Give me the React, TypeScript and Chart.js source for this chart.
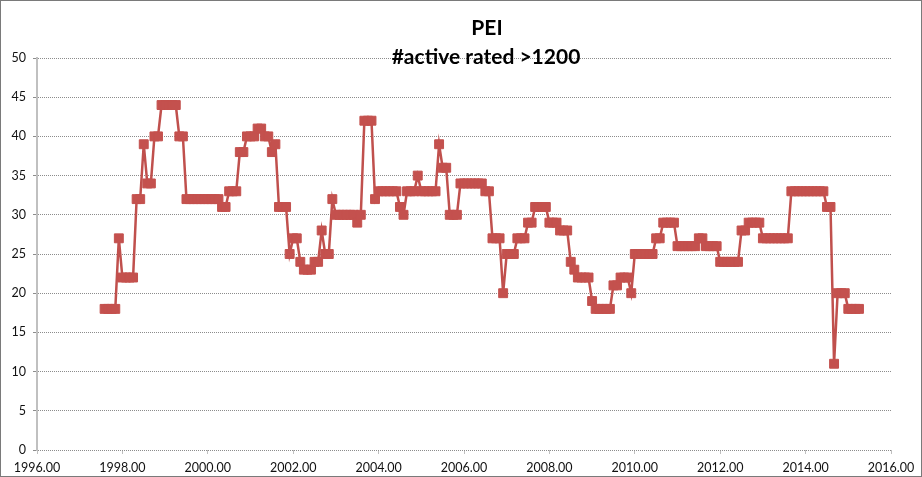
import React, { useEffect, useRef } from "react";
import { Chart, registerables } from "chart.js";

Chart.register(...registerables);

// Title text
const TITLE_LINES = ["PEI", "#active rated >1200"];

// First data point: August 1997, then one value per month
const FIRST_YEAR = 1997;
const FIRST_MONTH = 8;

// Axis ranges
const X_MIN = 1996;
const X_MAX = 2016;
const X_STEP = 2;
const Y_MIN = 0;
const Y_MAX = 50;
const Y_STEP = 5;

// Monthly values (number of active players rated > 1200)
const values1997 = [18, 18, 18, 18, 27];
const values1998 = [22, 22, 22, 22, 32, 32, 39, 34, 34, 40, 40, 44];
const values1999 = [44, 44, 44, 44, 40, 40, 32, 32, 32, 32, 32, 32];
const values2000 = [32, 32, 32, 32, 31, 31, 33, 33, 33, 38, 38, 40];
const values2001 = [40, 40, 41, 41, 40, 40, 38, 39, 31, 31, 31, 25];
const values2002 = [27, 27, 24, 23, 23, 23, 24, 24, 28, 25, 25, 32];
const values2003 = [30, 30, 30, 30, 30, 30, 29, 30, 42, 42, 42, 32];
const values2004 = [33, 33, 33, 33, 33, 33, 31, 30, 33, 33, 33, 35];
const values2005 = [33, 33, 33, 33, 33, 39, 36, 36, 30, 30, 30, 34];
const values2006 = [34, 34, 34, 34, 34, 34, 33, 33, 27, 27, 27, 20];
const values2007 = [25, 25, 25, 27, 27, 27, 29, 29, 31, 31, 31, 31];
const values2008 = [29, 29, 29, 28, 28, 28, 24, 23, 22, 22, 22, 22];
const values2009 = [19, 18, 18, 18, 18, 18, 21, 21, 22, 22, 22, 20];
const values2010 = [25, 25, 25, 25, 25, 25, 27, 27, 29, 29, 29, 29];
const values2011 = [26, 26, 26, 26, 26, 26, 27, 27, 26, 26, 26, 26];
const values2012 = [24, 24, 24, 24, 24, 24, 28, 28, 29, 29, 29, 29];
const values2013 = [27, 27, 27, 27, 27, 27, 27, 27, 33, 33, 33, 33];
const values2014 = [33, 33, 33, 33, 33, 33, 31, 31, 11, 20, 20, 20];
const values2015 = [18, 18, 18, 18];

const FONT = "Lato, 'Open Sans', Arial, sans-serif";

export default function App() {
  const ref = useRef<HTMLCanvasElement>(null);

  useEffect(() => {
    const values = [
      ...values1997, ...values1998, ...values1999, ...values2000, ...values2001,
      ...values2002, ...values2003, ...values2004, ...values2005, ...values2006,
      ...values2007, ...values2008, ...values2009, ...values2010, ...values2011,
      ...values2012, ...values2013, ...values2014, ...values2015,
    ];
    const points = values.map((y, i) => ({
      x: FIRST_YEAR + (FIRST_MONTH - 1 + i) / 12,
      y,
    }));

    const titlePlugin = {
      id: "excelTitle",
      afterDraw(chart: any) {
        const ctx = chart.ctx;
        ctx.save();
        ctx.fillStyle = "#000000";
        ctx.font = `bold 21px ${FONT}`;
        ctx.textAlign = "center";
        ctx.textBaseline = "middle";
        ctx.fillText(TITLE_LINES[0], 487, 28);
        ctx.fillText(TITLE_LINES[1], 486, 57);
        ctx.restore();
      },
    };

    const chart = new Chart(ref.current as HTMLCanvasElement, {
      type: "scatter",
      data: {
        datasets: [
          {
            data: points,
            showLine: true,
            borderColor: "#c0504d",
            borderWidth: 2.5,
            backgroundColor: "#c0504d",
            pointStyle: "rect",
            pointRadius: 6.3,
            pointHoverRadius: 6.3,
            pointBorderColor: "#c4514e",
            pointBorderWidth: 1,
            pointBackgroundColor: "#c4514e",
          },
        ],
      },
      options: {
        animation: false,
        responsive: false,
        maintainAspectRatio: false,
        layout: { padding: { top: 58, right: 31, left: 0, bottom: 0 } },
        plugins: {
          legend: { display: false },
          tooltip: { enabled: false },
          title: { display: false },
        },
        scales: {
          x: {
            type: "linear",
            min: X_MIN,
            max: X_MAX,
            afterFit: (scale: any) => {
              scale.height = 27;
            },
            ticks: {
              stepSize: X_STEP,
              autoSkip: false,
              maxRotation: 0,
              padding: 6,
              color: "#111111",
              font: { family: FONT, size: 12.5 },
              callback: (v: any) => Number(v).toFixed(2),
            },
            grid: {
              display: true,
              drawOnChartArea: false,
              drawTicks: true,
              tickLength: 4,
              color: "#bfbfbf",
              lineWidth: 1,
            },
            border: { display: false },
          },
          y: {
            type: "linear",
            min: Y_MIN,
            max: Y_MAX,
            afterFit: (scale: any) => {
              scale.width = 37;
            },
            ticks: {
              stepSize: Y_STEP,
              padding: 7,
              color: "#111111",
              font: { family: FONT, size: 12.5 },
            },
            grid: {
              color: "#8c8c8c",
              lineWidth: 1,
              tickLength: 4,
            },
            border: { display: true, color: "#c0c0c0", width: 2, dash: [1, 1] },
          },
        },
      },
      plugins: [titlePlugin],
    });

    return () => chart.destroy();
  }, []);

  return (
    <div
      style={{
        position: "fixed",
        left: 0,
        top: 0,
        width: 922,
        height: 477,
        background: "#ffffff",
      }}
    >
      <canvas ref={ref} width={922} height={477} style={{ display: "block" }} />
      <div
        style={{
          position: "absolute",
          left: 0,
          top: 0,
          width: 922,
          height: 477,
          boxSizing: "border-box",
          border: "1px solid #7a7a7a",
          pointerEvents: "none",
        }}
      />
    </div>
  );
}
